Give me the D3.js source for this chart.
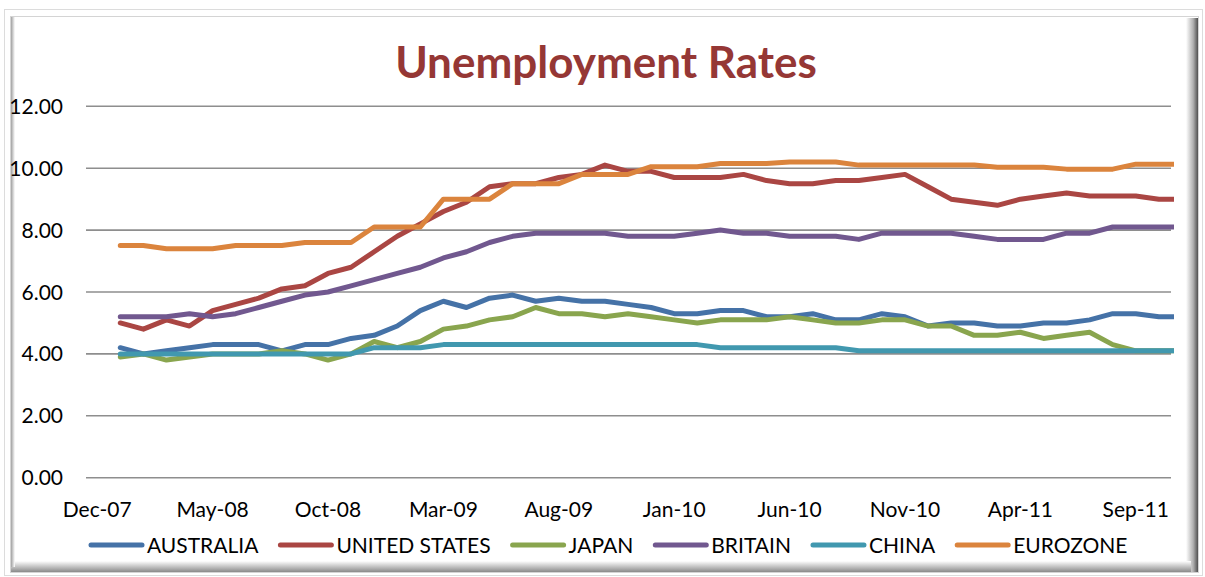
<!DOCTYPE html>
<html>
<head>
<meta charset="utf-8">
<script src="https://cdnjs.cloudflare.com/ajax/libs/d3/7.8.5/d3.min.js"></script>
<style>
  body { margin: 0; background: #fff; }
  text { font-family: Lato, "Open Sans", sans-serif; }
</style>
</head>
<body>
<div id="chart"></div>
<script>
// months on the category axis (Dec-07 has no data)
const months = ["Dec-07",
  "Jan-08","Feb-08","Mar-08","Apr-08","May-08","Jun-08","Jul-08","Aug-08","Sep-08","Oct-08","Nov-08","Dec-08",
  "Jan-09","Feb-09","Mar-09","Apr-09","May-09","Jun-09","Jul-09","Aug-09","Sep-09","Oct-09","Nov-09","Dec-09",
  "Jan-10","Feb-10","Mar-10","Apr-10","May-10","Jun-10","Jul-10","Aug-10","Sep-10","Oct-10","Nov-10","Dec-10",
  "Jan-11","Feb-11","Mar-11","Apr-11","May-11","Jun-11","Jul-11","Aug-11","Sep-11","Oct-11","Nov-11"];
const tickLabels = ["Dec-07","May-08","Oct-08","Mar-09","Aug-09","Jan-10","Jun-10","Nov-10","Apr-11","Sep-11"];
const yTicks = [0, 2, 4, 6, 8, 10, 12];

const countries = ["AUSTRALIA", "UNITED STATES", "JAPAN", "BRITAIN", "CHINA", "EUROZONE"];
const colors = ["#4572a7", "#aa4643", "#89a54e", "#71588f", "#4198af", "#db843d"];

const australia = [null, 4.2,4.0,4.1,4.2,4.3,4.3,4.3,4.1,4.3,4.3,4.5,4.6, 4.9,5.4,5.7,5.5,5.8,5.9,5.7,5.8,5.7,5.7,5.6,5.5,
  5.3,5.3,5.4,5.4,5.2,5.2,5.3,5.1,5.1,5.3,5.2,4.9, 5.0,5.0,4.9,4.9,5.0,5.0,5.1,5.3,5.3,5.2,5.2];
const unitedStates = [null, 5.0,4.8,5.1,4.9,5.4,5.6,5.8,6.1,6.2,6.6,6.8,7.3, 7.8,8.2,8.6,8.9,9.4,9.5,9.5,9.7,9.8,10.1,9.9,9.9,
  9.7,9.7,9.7,9.8,9.6,9.5,9.5,9.6,9.6,9.7,9.8,9.4, 9.0,8.9,8.8,9.0,9.1,9.2,9.1,9.1,9.1,9.0,9.0];
const japan = [null, 3.9,4.0,3.8,3.9,4.0,4.0,4.0,4.1,4.0,3.8,4.0,4.4, 4.2,4.4,4.8,4.9,5.1,5.2,5.5,5.3,5.3,5.2,5.3,5.2,
  5.1,5.0,5.1,5.1,5.1,5.2,5.1,5.0,5.0,5.1,5.1,4.9, 4.9,4.6,4.6,4.7,4.5,4.6,4.7,4.3,4.1,4.1,4.1];
const britain = [null, 5.2,5.2,5.2,5.3,5.2,5.3,5.5,5.7,5.9,6.0,6.2,6.4, 6.6,6.8,7.1,7.3,7.6,7.8,7.9,7.9,7.9,7.9,7.8,7.8,
  7.8,7.9,8.0,7.9,7.9,7.8,7.8,7.8,7.7,7.9,7.9,7.9, 7.9,7.8,7.7,7.7,7.7,7.9,7.9,8.1,8.1,8.1,8.1];
const china = [null, 4.0,4.0,4.0,4.0,4.0,4.0,4.0,4.0,4.0,4.0,4.0,4.2, 4.2,4.2,4.3,4.3,4.3,4.3,4.3,4.3,4.3,4.3,4.3,4.3,
  4.3,4.3,4.2,4.2,4.2,4.2,4.2,4.2,4.1,4.1,4.1,4.1, 4.1,4.1,4.1,4.1,4.1,4.1,4.1,4.1,4.1,4.1,4.1];
const eurozone = [null, 7.5,7.5,7.4,7.4,7.4,7.5,7.5,7.5,7.6,7.6,7.6,8.1, 8.1,8.1,9.0,9.0,9.0,9.5,9.5,9.5,9.8,9.8,9.8,10.05,
  10.05,10.05,10.15,10.15,10.15,10.2,10.2,10.2,10.1,10.1,10.1,10.1, 10.1,10.1,10.03,10.03,10.03,9.97,9.97,9.97,10.13,10.13,10.13];

const seriesValues = [australia, unitedStates, japan, britain, china, eurozone];

const width = 1205, height = 577;
const plot = {left: 86, right: 1171, top: 106.3, bottom: 477.7};

const svg = d3.select("#chart")
    .append("svg")
    .attr("width", width)
    .attr("height", height);

const defs = svg.append("defs");
const gRight = defs.append("linearGradient").attr("id", "bevelRight")
    .attr("x1", 0).attr("x2", 1).attr("y1", 0).attr("y2", 0);
gRight.append("stop").attr("offset", "0%").attr("stop-color", "#ffffff");
gRight.append("stop").attr("offset", "60%").attr("stop-color", "#b0b0b0");
gRight.append("stop").attr("offset", "100%").attr("stop-color", "#505050");
const gBottom = defs.append("linearGradient").attr("id", "bevelBottom")
    .attr("x1", 0).attr("x2", 0).attr("y1", 0).attr("y2", 1);
gBottom.append("stop").attr("offset", "0%").attr("stop-color", "#ffffff");
gBottom.append("stop").attr("offset", "100%").attr("stop-color", "#8a8a8a");
const gLeft = defs.append("linearGradient").attr("id", "bevelLeft")
    .attr("x1", 0).attr("x2", 1).attr("y1", 0).attr("y2", 0);
gLeft.append("stop").attr("offset", "0%").attr("stop-color", "#a0a0a0");
gLeft.append("stop").attr("offset", "100%").attr("stop-color", "#ffffff");

defs.append("clipPath").attr("id", "plotClip")
  .append("rect")
    .attr("x", plot.left).attr("y", 0)
    .attr("width", 1174 - plot.left).attr("height", height);

// chart frame with bevel
svg.append("rect")
    .attr("x", 4.5).attr("y", 9.5).attr("width", 1198).attr("height", 566)
    .attr("fill", "none").attr("stroke", "#dcdcdc");
svg.append("rect")
    .attr("x", 10.5).attr("y", 16.5).attr("width", 1188).attr("height", 556)
    .attr("fill", "#fff").attr("stroke", "#d4d4d4");
svg.append("rect")
    .attr("x", 1186).attr("y", 18).attr("width", 12).attr("height", 554)
    .attr("fill", "url(#bevelRight)");
svg.append("rect")
    .attr("x", 11).attr("y", 561).attr("width", 1180).attr("height", 11)
    .attr("fill", "url(#bevelBottom)");
svg.append("rect")
    .attr("x", 11).attr("y", 17).attr("width", 4).attr("height", 550)
    .attr("fill", "url(#bevelLeft)");

// scales
const x = d3.scaleLinear()
    .domain([0, months.length - 1])
    .range([97.2, 97.2 + (months.length - 1) * 23.08]);
const y = d3.scaleLinear()
    .domain([0, 12])
    .range([plot.bottom, plot.top]);

// gridlines
svg.append("g")
  .selectAll("line")
  .data(yTicks)
  .join("line")
    .attr("x1", plot.left).attr("x2", plot.right)
    .attr("y1", d => y(d)).attr("y2", d => y(d))
    .attr("stroke", "#8e8e8e")
    .attr("stroke-width", 1.6);

// y axis labels
svg.append("g")
  .selectAll("text")
  .data(yTicks)
  .join("text")
    .attr("x", 63)
    .attr("y", d => y(d) + 7.5)
    .attr("text-anchor", "end")
    .style("font-size", "21px")
    .attr("fill", "#000")
    .text(d => d.toFixed(2));

// x axis labels
svg.append("g")
  .selectAll("text")
  .data(tickLabels)
  .join("text")
    .attr("x", d => x(months.indexOf(d)))
    .attr("y", 516.5)
    .attr("text-anchor", "middle")
    .style("font-size", "21px")
    .attr("fill", "#000")
    .text(d => d);

// lines
const line = d3.line()
    .defined(d => d != null)
    .x((d, i) => x(i))
    .y(d => y(d));

svg.append("g")
    .attr("clip-path", "url(#plotClip)")
  .selectAll("path")
  .data(seriesValues)
  .join("path")
    .attr("d", d => line(d))
    .attr("fill", "none")
    .attr("stroke", (d, i) => colors[i])
    .attr("stroke-width", 5)
    .attr("stroke-linejoin", "round")
    .attr("stroke-linecap", "round");

// title
svg.append("text")
    .attr("x", 606)
    .attr("y", 78)
    .attr("text-anchor", "middle")
    .style("font-size", "44px")
    .style("font-weight", "bold")
    .attr("fill", "#953735")
    .text("Unemployment Rates");

// legend
const legend = svg.append("g");
let lx = 89;
countries.forEach((name, i) => {
  legend.append("line")
      .attr("x1", lx + 2).attr("x2", lx + 53)
      .attr("y1", 545).attr("y2", 545)
      .attr("stroke", colors[i])
      .attr("stroke-width", 5)
      .attr("stroke-linecap", "round");
  const t = legend.append("text")
      .attr("x", lx + 58)
      .attr("y", 552.5)
      .style("font-size", "21px")
      .attr("fill", "#000")
      .text(name);
  lx += 58 + t.node().getComputedTextLength() + 20;
});
</script>
</body>
</html>
